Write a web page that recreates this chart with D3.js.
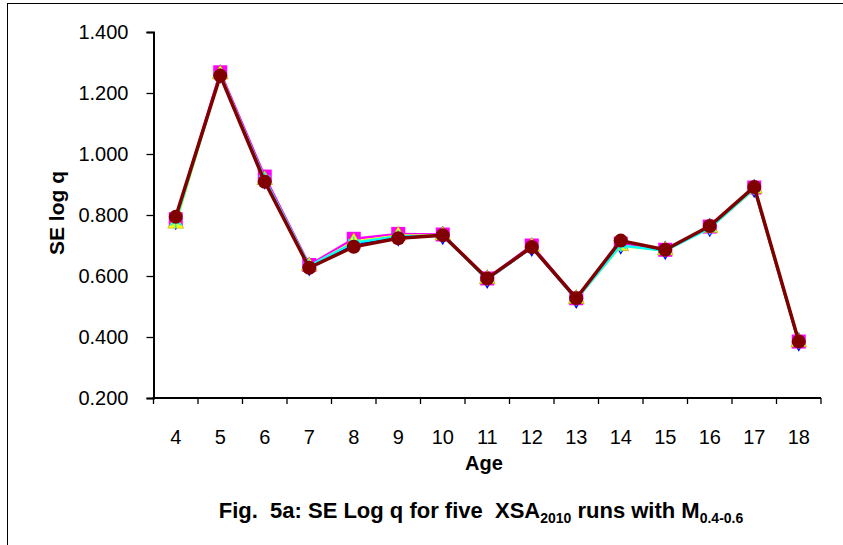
<!DOCTYPE html>
<html>
<head>
<meta charset="utf-8">
<script src="https://cdn.jsdelivr.net/npm/d3@7"></script>
<style>
  html, body { margin: 0; padding: 0; background: #fff; }
  svg { display: block; }
  text { font-family: "Liberation Sans", Arial, sans-serif; }
</style>
</head>
<body>
<script>
// ---- data ----
const ages = [4, 5, 6, 7, 8, 9, 10, 11, 12, 13, 14, 15, 16, 17, 18];
const yTicks = [0.2, 0.4, 0.6, 0.8, 1.0, 1.2, 1.4];
const run1 = [0.782, 1.262, 0.915, 0.630, 0.705, 0.728, 0.733, 0.589, 0.694, 0.524, 0.702, 0.684, 0.759, 0.887, 0.384];
const run2 = [0.786, 1.268, 0.926, 0.636, 0.722, 0.738, 0.736, 0.592, 0.700, 0.527, 0.706, 0.686, 0.762, 0.890, 0.385];
const run3 = [0.772, 1.262, 0.915, 0.632, 0.712, 0.733, 0.733, 0.590, 0.696, 0.525, 0.698, 0.684, 0.758, 0.886, 0.383];
const run4 = [0.778, 1.260, 0.918, 0.633, 0.709, 0.730, 0.732, 0.589, 0.694, 0.524, 0.700, 0.683, 0.757, 0.887, 0.383];
const run5 = [0.794, 1.257, 0.909, 0.627, 0.696, 0.724, 0.734, 0.592, 0.695, 0.527, 0.716, 0.686, 0.764, 0.892, 0.385];

const series = [
  { values: run1, color: "#0000FF", marker: "diamond" },
  { values: run2, color: "#FF00FF", marker: "square" },
  { values: run3, color: "#FFFF00", marker: "triangle" },
  { values: run4, color: "#00FFFF", marker: "cross" },
  { values: run5, color: "#800000", marker: "circle" }
];

// ---- layout ----
const W = 843, H = 545;
const plotL = 153.5, plotR = 821, plotT = 32, plotB = 398;

const svg = d3.select("body").append("svg").attr("width", W).attr("height", H);

// outer frame
svg.append("rect").attr("x", 7.5).attr("y", 3.5).attr("width", 900).attr("height", 600)
  .attr("fill", "none").attr("stroke", "#000").attr("stroke-width", 1);

const x = d3.scaleBand().domain(ages).range([plotL, plotR]).padding(0);
const y = d3.scaleLinear().domain([0.2, 1.4]).range([plotB, plotT]);

const FONT = "'Liberation Sans', Arial, sans-serif";

// y axis
const yAxis = d3.axisLeft(y).tickValues(yTicks).tickFormat(d3.format(".3f")).tickSizeOuter(0).tickSize(7).tickPadding(18);
const gy = svg.append("g").attr("transform", `translate(${plotL},0)`).call(yAxis);
gy.select(".domain").attr("stroke", "#000").attr("stroke-width", 2);
gy.selectAll(".tick line").attr("stroke", "#000").attr("stroke-width", 1.3);
gy.selectAll(".tick text").attr("font-size", 20).attr("fill", "#000").style("font-family", FONT);

// x axis
const xAxis = d3.axisBottom(x).tickSize(0).tickPadding(32);
const gx = svg.append("g").attr("transform", `translate(0,${plotB})`).call(xAxis);
gx.select(".domain").remove();
gx.append("line").attr("x1", plotL - 1).attr("x2", plotR).attr("y1", 0).attr("y2", 0)
  .attr("stroke", "#000").attr("stroke-width", 2);
// boundary ticks
const bounds = ages.map(a => x(a)).concat([x(ages[ages.length - 1]) + x.bandwidth()]);
gx.selectAll("line.bt").data(bounds).enter().append("line").attr("class", "bt")
  .attr("x1", d => d).attr("x2", d => d).attr("y1", 0).attr("y2", 6)
  .attr("stroke", "#000").attr("stroke-width", 1.3);
gx.selectAll(".tick text").attr("font-size", 20).attr("fill", "#000").style("font-family", FONT);

// axis titles
svg.append("text").attr("transform", `translate(64,213) rotate(-90)`)
  .attr("text-anchor", "middle").attr("font-size", 21).attr("font-weight", "bold").text("SE log q");
svg.append("text").attr("x", 484).attr("y", 470)
  .attr("text-anchor", "middle").attr("font-size", 20).attr("font-weight", "bold").text("Age");

// caption
const cap = svg.append("text").attr("x", 481).attr("y", 518).attr("text-anchor", "middle")
  .attr("font-size", 22).attr("font-weight", "bold").style("white-space", "pre");
cap.append("tspan").text("Fig.  5a: SE Log q for five  XSA");
cap.append("tspan").attr("font-size", 14).attr("dy", 5).text("2010");
cap.append("tspan").attr("dy", -5).text(" runs with M");
cap.append("tspan").attr("font-size", 14).attr("dy", 5).text("0.4-0.6");

// series
const cx = i => x(ages[i]) + x.bandwidth() / 2;
const line = d3.line().x((d, i) => cx(i)).y(d => y(d));

series.forEach((s, si) => {
  const g = svg.append("g");
  g.append("path").datum(s.values).attr("d", line).attr("fill", "none")
    .attr("stroke", s.color).attr("stroke-width", si === 4 ? 3.5 : 2.5).attr("stroke-linejoin", "round");
  const m = g.selectAll("g.m").data(s.values).enter().append("g")
    .attr("transform", (d, i) => `translate(${cx(i)},${y(d)})`);
  if (s.marker === "circle") {
    m.append("circle").attr("r", 7).attr("fill", s.color);
  } else if (s.marker === "square") {
    m.append("rect").attr("x", -7).attr("y", -7).attr("width", 14).attr("height", 14).attr("fill", s.color);
  } else if (s.marker === "diamond") {
    m.append("path").attr("d", d3.symbol(d3.symbolDiamond, 110)()).attr("fill", s.color);
  } else if (s.marker === "triangle") {
    m.append("path").attr("d", d3.symbol(d3.symbolTriangle, 110)()).attr("fill", s.color).attr("stroke", "#999900").attr("stroke-width", 0.5);
  } else {
    m.append("path").attr("d", d3.symbol(d3.symbolAsterisk, 120)()).attr("fill", "none")
      .attr("stroke", s.color).attr("stroke-width", 1.5);
  }
});
</script>
</body>
</html>
